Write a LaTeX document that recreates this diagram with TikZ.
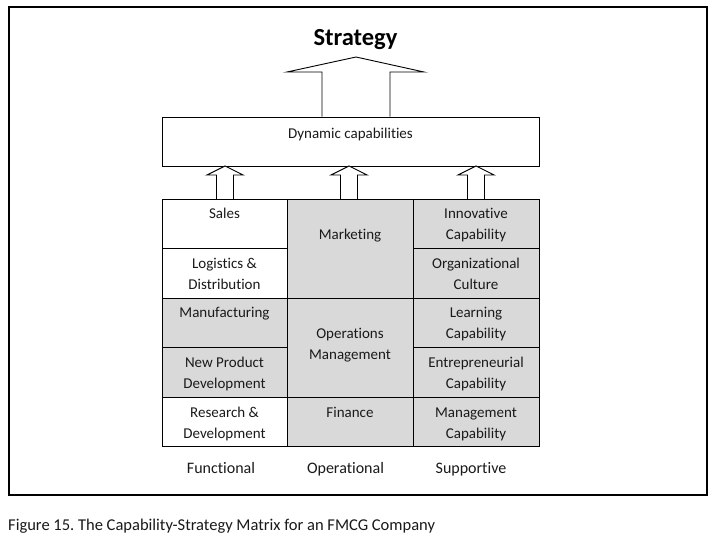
\documentclass[tikz,border=0pt]{standalone}
\usepackage{fontspec}
\setmainfont{Carlito}[Ligatures=CommonOff]
\definecolor{cellgray}{HTML}{D9D9D9}
\definecolor{txt}{HTML}{1A1A1A}
\frenchspacing
\begin{document}
\begin{tikzpicture}[x=1pt,y=-1pt,
  frame/.style={draw=black,line width=2pt},
  boxline/.style={draw=black,line width=0.9pt},
  celltext/.style={anchor=base,inner sep=0pt,align=center,text=txt,font=\fontsize{15}{21}\selectfont},
  collabel/.style={anchor=base,inner sep=0pt,text=txt,font=\fontsize{16}{19}\selectfont},
  blockarrow/.style={draw=black,line width=0.9pt,fill=white,line join=miter}]
\useasboundingbox (0,0) rectangle (724,537);
\fill[white] (0,0) rectangle (724,537);
% outer frame
\draw[frame] (9,7) rectangle (707,495);
% title
\node[anchor=base,inner sep=0pt,font=\fontsize{24.5}{28}\bfseries\selectfont] (strategy) at (355.5,46) {Strategy};
% dynamic capabilities box
\node[boxline,minimum width=377pt,minimum height=49pt,inner sep=0pt] (dyn) at (350.5,141.5) {};
\node[celltext] (dyntext) at (350.5,139) {Dynamic capabilities};
% big arrow
\draw[blockarrow] (dyn.north -| 322,0) -- (322,72) -- (287,72) -- (356,57) -- (424,72) -- (390,72) -- (dyn.north -| 390,0);
% grid cells
\draw[boxline,fill=white] (162,199) rectangle (287,248.5);
\draw[boxline,fill=white] (162,248.5) rectangle (287,298);
\draw[boxline,fill=cellgray] (162,298) rectangle (287,347.5);
\draw[boxline,fill=cellgray] (162,347.5) rectangle (287,397);
\draw[boxline,fill=white] (162,397) rectangle (287,446);
\draw[boxline,fill=cellgray] (287,199) rectangle (413,298);
\draw[boxline,fill=cellgray] (287,298) rectangle (413,397);
\draw[boxline,fill=cellgray] (287,397) rectangle (413,446);
\draw[boxline,fill=cellgray] (413,199) rectangle (539,248.5);
\draw[boxline,fill=cellgray] (413,248.5) rectangle (539,298);
\draw[boxline,fill=cellgray] (413,298) rectangle (539,347.5);
\draw[boxline,fill=cellgray] (413,347.5) rectangle (539,397);
\draw[boxline,fill=cellgray] (413,397) rectangle (539,446);
% small arrows
\foreach \cx in {225,349,476}{
  \draw[blockarrow] (\cx-8.5,199) -- (\cx-8.5,175) -- (\cx-18,175) -- (\cx,166) -- (\cx+18,175) -- (\cx+8.5,175) -- (\cx+8.5,199);
}
% cell texts (base anchor = last line's baseline)
\node[celltext] (sales) at (224.5,219) {Sales};
\node[celltext] (logistics) at (224.5,289.5) {Logistics \&\\Distribution};
\node[celltext] (manuf) at (224.5,318) {Manufacturing};
\node[celltext] (npd) at (224.5,388.5) {New Product\\Development};
\node[celltext] (rnd) at (224.5,438.5) {Research \&\\Development};
\node[celltext] (marketing) at (350,240) {Marketing};
\node[celltext] (opm) at (350,360) {Operations\\Management};
\node[celltext] (finance) at (350,417.5) {Finance};
\node[celltext] (innov) at (476,240) {Innovative\\Capability};
\node[celltext] (orgcult) at (476,289.5) {Organizational\\Culture};
\node[celltext] (learn) at (476,339) {Learning\\Capability};
\node[celltext] (entre) at (476,388.5) {Entrepreneurial\\Capability};
\node[celltext] (mgmt) at (476,438.5) {Management\\Capability};
% column labels
\node[collabel] (functional) at (221,474) {Functional};
\node[collabel] (operational) at (345.5,474) {Operational};
\node[collabel] (supportive) at (471,474) {Supportive};
% caption
\node[anchor=base west,inner sep=0pt,text=txt,font=\fontsize{16.5}{19}\selectfont] (caption) at (8,531) {Figure 15. The Capability-Strategy Matrix for an FMCG Company};
\end{tikzpicture}
\end{document}
